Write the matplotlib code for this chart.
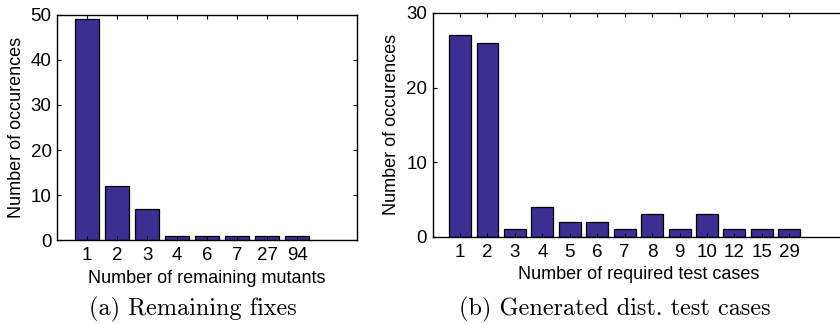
import matplotlib.pyplot as plt

plt.rcParams["font.family"] = ["Liberation Sans", "DejaVu Sans"]

mutant_labels = ["1", "2", "3", "4", "6", "7", "27", "94"]
mutant_counts = [49, 12, 7, 1, 1, 1, 1, 1]

testcase_labels = ["1", "2", "3", "4", "5", "6", "7", "8", "9", "10", "12", "15", "29"]
testcase_counts = [27, 26, 1, 4, 2, 2, 1, 3, 1, 3, 1, 1, 1]

bar_color = "#3b2f93"


def draw_panel(ax, labels, counts, xlim, ylim, yticks, xlabel, caption, cap_x):
    pos = list(range(1, len(labels) + 1))
    ax.bar(pos, counts, width=0.8, color=bar_color, edgecolor="black", linewidth=0.9)
    ax.set_xlim(*xlim)
    ax.set_ylim(*ylim)
    ax.set_xticks(pos)
    ax.set_xticklabels(labels)
    ax.set_yticks(yticks)
    ax.tick_params(direction="in", top=True, right=True, length=3, width=0.8,
                   labelsize=13.5, pad=4)
    ax.tick_params(axis="x", pad=5)
    for s in ax.spines.values():
        s.set_linewidth(1.0)
    ax.set_xlabel(xlabel, fontsize=13, labelpad=4)
    ax.set_ylabel("Number of occurences", fontsize=13, labelpad=4)
    fig.text(cap_x, 0.045, caption, ha="center", va="center",
             fontsize=17.5, family="cmr10")


fig = plt.figure(figsize=(8.4, 3.24), dpi=100)
ax1 = fig.add_axes([0.068, 0.259, 0.357, 0.695])
ax2 = fig.add_axes([0.515, 0.269, 0.49, 0.691])

draw_panel(ax1, mutant_labels, mutant_counts, (0, 10), (0, 50), [0, 10, 20, 30, 40, 50],
           "Number of remaining mutants", "(a) Remaining fixes", 0.23)
draw_panel(ax2, testcase_labels, testcase_counts, (0, 15), (0, 30), [0, 10, 20, 30],
           "Number of required test cases", "(b) Generated dist. test cases", 0.732)

fig.savefig("out.png", dpi=100)
